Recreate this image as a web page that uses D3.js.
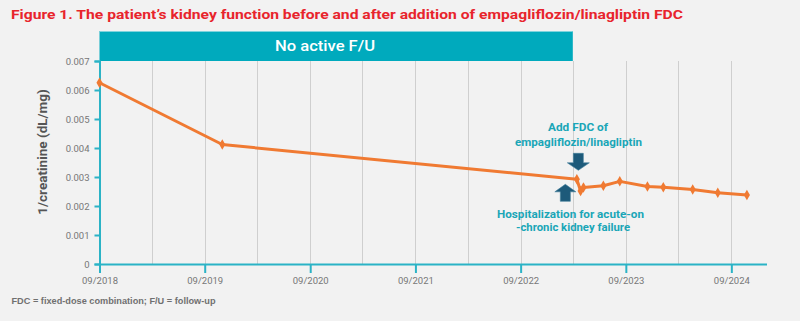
<!DOCTYPE html>
<html><head><meta charset="utf-8">
<script src="https://cdn.jsdelivr.net/npm/d3@7"></script>
<style>html,body{margin:0;padding:0;background:#f2f2f2;}svg{display:block;}</style>
</head><body>
<svg id="c" width="800" height="321"></svg>
<script>
const dates = ["2018-09-01","2019-11-01","2023-03-15","2023-03-28","2023-04-07","2023-06-15","2023-08-11","2023-11-15","2024-01-09","2024-04-20","2024-07-16","2024-10-25"];
const values = [0.00625,0.00412,0.00292,0.00252,0.00264,0.00270,0.00285,0.00267,0.00265,0.00257,0.00246,0.00238];
const yTicks = [0,0.001,0.002,0.003,0.004,0.005,0.006,0.007];
const xTickDates = ["2018-09-01","2019-09-01","2020-09-01","2021-09-01","2022-09-01","2023-09-01","2024-09-01"];
const gridDates = ["2019-03-01","2019-09-01","2020-03-01","2020-09-01","2021-03-01","2021-09-01","2022-03-01","2022-09-01","2023-03-01","2023-09-01","2024-03-01","2024-09-01"];
const bannerRange = ["2018-09-01","2023-03-01"];
const eventIndex = 2; // hospitalization / FDC point

const parse = d3.timeParse("%Y-%m-%d");
const data = dates.map((d,i)=>({date:parse(d), v:values[i]}));
const svg = d3.select("#c");
const teal = "#2bb3c6";

const x = d3.scaleTime().domain([parse("2018-09-01"), parse("2025-01-01")]).range([99.5, 766.5]);
const y = d3.scaleLinear().domain([0, 0.007]).range([264, 61]);

// title
svg.append("text").attr("x",11).attr("y",19).attr("fill","#e8242c")
  .attr("font-family","Roboto, sans-serif").attr("font-weight","bold").attr("font-size",13.5)
  .attr("textLength",672).attr("lengthAdjust","spacingAndGlyphs")
  .text("Figure 1. The patient\u2019s kidney function before and after addition of empagliflozin/linagliptin FDC");

// grid
svg.append("g").selectAll("line").data(gridDates.map(parse)).join("line")
  .attr("x1",d=>Math.round(x(d))+0.5).attr("x2",d=>Math.round(x(d))+0.5)
  .attr("y1",y(0.007)).attr("y2",y(0))
  .attr("stroke","#cfcfcf").attr("stroke-width",1);

// banner
const b0 = x(parse(bannerRange[0])), b1 = x(parse(bannerRange[1]));
svg.append("rect").attr("x",b0).attr("y",31).attr("width",b1-b0).attr("height",y(0.007)-31).attr("fill","#00aabd");
svg.append("line").attr("x1",b0).attr("x2",b1).attr("y1",31.5).attr("y2",31.5).attr("stroke","#7fd3dd").attr("stroke-width",1);
svg.append("text").attr("x",325).attr("y",50.5).attr("text-anchor","middle").attr("fill","#fff")
  .attr("font-family","Roboto, sans-serif").attr("font-weight",500).attr("font-size",15)
  .attr("textLength",100).attr("lengthAdjust","spacingAndGlyphs").text("No active F/U");

// y axis
const yAxis = svg.append("g").attr("transform","translate(99.5,0)")
  .call(d3.axisLeft(y).tickValues(yTicks).tickSize(5).tickPadding(5).tickFormat(d=>d===0?"0":d3.format(".3f")(d)));
yAxis.select(".domain").attr("stroke",teal).attr("stroke-width",2);
yAxis.selectAll(".tick line").attr("stroke",teal).attr("stroke-width",2);
yAxis.selectAll(".tick text").attr("fill","#777").attr("font-family","Roboto, sans-serif").attr("font-size",9.5);

// x axis
const xAxis = svg.append("g").attr("transform","translate(0,264)")
  .call(d3.axisBottom(x).tickValues(xTickDates.map(parse)).tickSize(9).tickPadding(4).tickSizeOuter(0).tickFormat(d3.timeFormat("%m/%Y")));
xAxis.select(".domain").attr("stroke",teal).attr("stroke-width",2);
xAxis.selectAll(".tick line").attr("stroke",teal).attr("stroke-width",2);
xAxis.selectAll(".tick text").attr("fill","#777").attr("font-family","Roboto, sans-serif").attr("font-size",9.5);

// y label
svg.append("text").attr("transform","translate(47,152) rotate(-90)").attr("text-anchor","middle")
  .attr("fill","#555").attr("font-family","Roboto, sans-serif").attr("font-weight","bold").attr("font-size",13.5)
  .text("1/creatinine (dL/mg)");

// line
const line = d3.line().x(d=>x(d.date)).y(d=>y(d.v));
svg.append("path").datum(data).attr("d",line).attr("fill","none").attr("stroke","#f07a32").attr("stroke-width",3).attr("stroke-linejoin","round");
svg.append("g").selectAll("path").data(data).join("path")
  .attr("transform",d=>`translate(${x(d.date)},${y(d.v)})`)
  .attr("d",d3.symbol(d3.symbolDiamond,32)).attr("fill","#f07a32");

// arrows
const ex = x(data[eventIndex].date), ey = y(data[eventIndex].v);
const arrowFill = "#1d5a7a";
// down arrow (Add FDC)
const dx = ex+1.5;
svg.append("path").attr("d",`M${dx-5},${ey-26} L${dx+5},${ey-26} L${dx+5},${ey-16.5} L${dx+11},${ey-16.5} L${dx},${ey-9} L${dx-11},${ey-16.5} L${dx-5},${ey-16.5} Z`)
  .attr("fill",arrowFill).attr("stroke","#3f7d9a").attr("stroke-width",0.6);
// up arrow (Hospitalization)
const ux = ex-11.5;
svg.append("path").attr("d",`M${ux},${ey+5} L${ux+10.5},${ey+12.5} L${ux+5},${ey+12.5} L${ux+5},${ey+22} L${ux-5},${ey+22} L${ux-5},${ey+12.5} L${ux-10.5},${ey+12.5} Z`)
  .attr("fill",arrowFill).attr("stroke","#3f7d9a").attr("stroke-width",0.6);

// annotations
const annColor = "#1aa6b7";
const ann = [
  {t:"Add FDC of", x:578, y:131, w:60},
  {t:"empagliflozin/linagliptin", x:578.5, y:146, w:127},
  {t:"Hospitalization for acute-on", x:570.5, y:218, w:147},
  {t:"-chronic kidney failure", x:573, y:231, w:114}
];
svg.append("g").selectAll("text").data(ann).join("text")
  .attr("x",d=>d.x).attr("y",d=>d.y).attr("text-anchor","middle").attr("fill",annColor)
  .attr("font-family","Roboto, sans-serif").attr("font-weight","bold").attr("font-size",11)
  .attr("textLength",d=>d.w).attr("lengthAdjust","spacingAndGlyphs").text(d=>d.t);

// footnote
svg.append("text").attr("x",11.5).attr("y",304).attr("fill","#707070")
  .attr("font-family","'Liberation Sans', Arial, sans-serif").attr("font-weight","bold").attr("font-size",8.5)
  .attr("textLength",204).attr("lengthAdjust","spacingAndGlyphs")
  .text("FDC = fixed-dose combination; F/U = follow-up");
</script>
</body></html>
